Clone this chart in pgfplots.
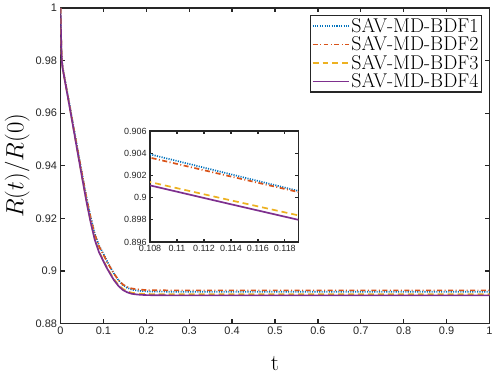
\documentclass[border=0pt]{standalone}
\usepackage{fontspec}
\newfontfamily\ticksf{Liberation Sans}
\usepackage{pgfplots}
\usepackage{pgfplotstable}
\pgfplotsset{compat=1.18}

\definecolor{mblue}{rgb}{0,0.447,0.741}
\definecolor{mred}{rgb}{0.85,0.325,0.098}
\definecolor{myellow}{rgb}{0.929,0.694,0.125}
\definecolor{mpurple}{rgb}{0.494,0.184,0.556}
\definecolor{axgray}{rgb}{0.15,0.15,0.15}

% t, BDF1, BDF2, BDF3, BDF4
\pgfplotstableread{
t     b1      b2      b3       b4
0     1.0000  1.0000  1.0000   1.0000
0.001 0.9917  0.9915  0.9915   0.9915
0.002 0.9848  0.9846  0.9845   0.9845
0.003 0.9804  0.9802  0.9800   0.9800
0.005 0.9775  0.9773  0.9771   0.9770
0.01  0.9731  0.9728  0.9726   0.9725
0.02  0.9643  0.9640  0.9637   0.9635
0.03  0.9553  0.9550  0.9545   0.9543
0.04  0.9462  0.9459  0.9452   0.9450
0.05  0.9373  0.9370  0.9360   0.9358
0.06  0.9285  0.9282  0.9271   0.9268
0.07  0.9207  0.9204  0.9190   0.9187
0.08  0.9141  0.9138  0.9121   0.9118
0.09  0.9096  0.9093  0.9073   0.9070
0.1   0.9065  0.9062  0.9040   0.9037
0.108 0.9039  0.9036  0.9014   0.9011
0.114 0.9021  0.9019  0.89975  0.8994
0.119 0.9006  0.9005  0.8984   0.8980
0.125 0.8989  0.8989  0.8968   0.8964
0.135 0.8965  0.8966  0.8947   0.8943
0.145 0.8947  0.8949  0.8932   0.8928
0.155 0.8936  0.8939  0.8923   0.8919
0.166 0.8929  0.8933  0.8917   0.8913
0.18  0.8925  0.8930  0.8914   0.8910
0.2   0.8922  0.8927  0.8912   0.8908
0.25  0.8921  0.8926  0.8911   0.8907
0.5   0.8921  0.8926  0.8911   0.8907
1     0.8921  0.8926  0.8911   0.8907
}\rdata

\pgfplotsset{
  s1/.style={mblue, line width=1.7pt, dash pattern=on 1.1pt off 1.3pt},
  s2/.style={mred, line width=1.7pt, dash pattern=on 5pt off 2.5pt on 1pt off 2.5pt},
  s3/.style={myellow, line width=1.7pt, dash pattern=on 6pt off 4pt},
  s4/.style={mpurple, line width=1.7pt},
}

\begin{document}
\begin{tikzpicture}
\path[use as bounding box] (-60.5bp,-50.5bp) rectangle (437.5bp,323.5bp);

\begin{axis}[
  at={(0,0)}, anchor=south west,
  scale only axis, width=429bp, height=315.5bp,
  xmin=0, xmax=1, ymin=0.88, ymax=1,
  xtick={0,0.1,...,1}, ytick={0.88,0.9,...,1},
  tick align=inside, major tick length=4.5bp,
  axis line style={axgray, line width=1.4pt},
  every tick/.style={axgray, line width=1.3pt},
  tick label style={font=\ticksf\fontsize{11}{13}\selectfont, text=axgray},
  /pgf/number format/assume math mode=true,
  xlabel={t}, ylabel={$R(t)/R(0)$},
  xlabel style={at={(axis description cs:0.5,-0.127)}, anchor=center, inner sep=0pt, font=\fontsize{23}{26}\selectfont},
  ylabel style={at={(axis description cs:-0.101,0.5)}, anchor=center, font=\fontsize{23}{26}\selectfont},
  legend style={at={(0.982,0.978)}, anchor=north east, draw=axgray, line width=1.2pt,
    font=\fontsize{20}{21}\selectfont, row sep=0.5pt, inner sep=1.5pt,
    nodes={inner sep=1.2pt}, cells={anchor=west}},
  legend image code/.code={\draw[#1] (0cm,0cm) -- (1.3cm,0cm);},
]
\addplot[s1] table[x=t, y=b1] {\rdata};
\addplot[s2] table[x=t, y=b2] {\rdata};
\addplot[s3] table[x=t, y=b3] {\rdata};
\addplot[s4] table[x=t, y=b4] {\rdata};
\legend{SAV-MD-BDF1, SAV-MD-BDF2, SAV-MD-BDF3, SAV-MD-BDF4}
\end{axis}

\begin{axis}[
  at={(89.5bp,81.5bp)}, anchor=south west,
  scale only axis, width=148.3bp, height=111bp,
  xmin=0.108, xmax=0.119, ymin=0.896, ymax=0.906,
  xtick={0.108,0.11,0.112,0.114,0.116,0.118},
  ytick={0.896,0.898,0.9,0.902,0.904,0.906},
  axis background/.style={fill=white},
  tick align=inside, major tick length=3bp,
  axis line style={axgray, line width=1.4pt},
  every tick/.style={axgray, line width=1.3pt},
  tick label style={font=\ticksf\fontsize{9}{11}\selectfont, text=axgray},
  /pgf/number format/.cd, fixed, precision=3, assume math mode=true,
]
\addplot[s1] table[x=t, y=b1] {\rdata};
\addplot[s2] table[x=t, y=b2] {\rdata};
\addplot[s3] table[x=t, y=b3] {\rdata};
\addplot[s4] table[x=t, y=b4] {\rdata};
\end{axis}
\end{tikzpicture}
\end{document}
